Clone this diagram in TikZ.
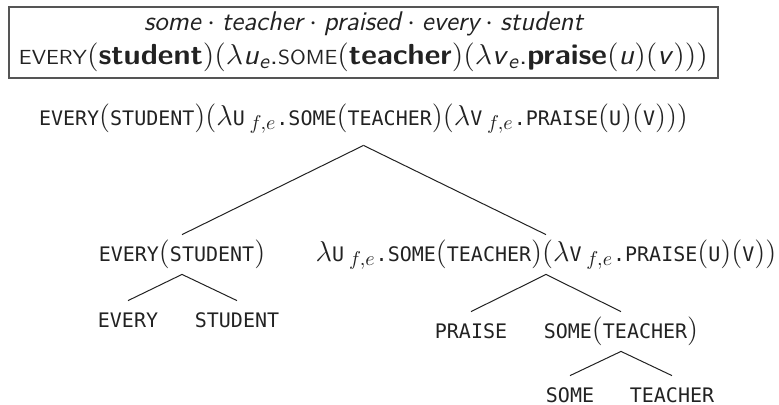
\documentclass[tikz,border=0pt]{standalone}
\usepackage{amsmath}
\usepackage{graphicx}
\usepackage{fontspec}
\setmonofont{DejaVu Sans Mono}
\usepackage{tikz}
\definecolor{trink}{HTML}{222222}
\definecolor{trframe}{HTML}{555555}
\newcommand{\mth}[1]{{\fontsize{14}{14}\selectfont$#1$}}
\newcommand{\bmth}[1]{{\fontsize{15}{15}\selectfont$#1$}}
\newcommand{\fsc}[1]{{\fontsize{10.2}{11}\selectfont #1}}

\begin{document}
\begin{tikzpicture}[x=0.5pt,y=-0.5pt,
  every node/.style={inner sep=0pt,text=trink},
  lbl/.style={font={\ttfamily\fontsize{10}{12}\selectfont},anchor=base,text height=13pt,text depth=6.5pt},
  gloss/.style={font={\sffamily\fontsize{14.5}{16}\selectfont},anchor=base}]
  \useasboundingbox (0,0) rectangle (779,404);
  % derivation box
  \node[draw=trframe,line width=0.6pt,minimum width=354.5pt,minimum height=35.5pt] (frame) at (363.5,42.5) {};
  \node[gloss,font={\sffamily\fontsize{13.5}{16}\selectfont}] (words) at (363.5,30) {\resizebox{219.5pt}{\height}{\itshape some${}\cdot{}$teacher${}\cdot{}$praised${}\cdot{}$every${}\cdot{}$student}};
  \node[gloss] (sem) at (363.5,64) {\resizebox{344.5pt}{\height}{\fsc{EVERY}\bmth{(}\textbf{student}\bmth{)(\lambda}\textit{u}\bmth{_{\textit{e}}}.\fsc{SOME}\bmth{(}\textbf{teacher}\bmth{)(\lambda}\textit{v}\bmth{_{\textit{e}}}.\textbf{praise}\bmth{(}\textit{u}\bmth{)(}\textit{v}\bmth{)))}}};
  % tree
  \node[lbl,text depth=10pt] (top) at (363.5,125) {EVERY\mth{(}STUDENT\mth{)(\lambda}U\mth{\,_{f,e}}.SOME\mth{(}TEACHER\mth{)(\lambda}V\mth{\,_{f,e}}.PRAISE\mth{(}U\mth{)(}V\mth{)))}};
  \node[lbl] (evst) at (182,261) {EVERY\mth{(}STUDENT\mth{)}};
  \node[lbl] (lamu) at (546,261) {\mth{\lambda}U\mth{\,_{f,e}}.SOME\mth{(}TEACHER\mth{)(\lambda}V\mth{\,_{f,e}}.PRAISE\mth{(}U\mth{)(}V\mth{))}};
  \node[lbl] (every) at (128,327) {EVERY};
  \node[lbl] (student) at (237,327) {STUDENT};
  \node[lbl] (praise) at (471,338) {PRAISE};
  \node[lbl] (smtch) at (621,338) {SOME\mth{(}TEACHER\mth{)}};
  \node[lbl] (some) at (570,402) {SOME};
  \node[lbl] (teacher) at (672,402) {TEACHER};
  \foreach \p/\c in {top/evst,top/lamu,evst/every,evst/student,lamu/praise,lamu/smtch,smtch/some,smtch/teacher}
    \draw[trink,line width=0.5pt] (\p.south) -- (\c.north);
\end{tikzpicture}
\end{document}
